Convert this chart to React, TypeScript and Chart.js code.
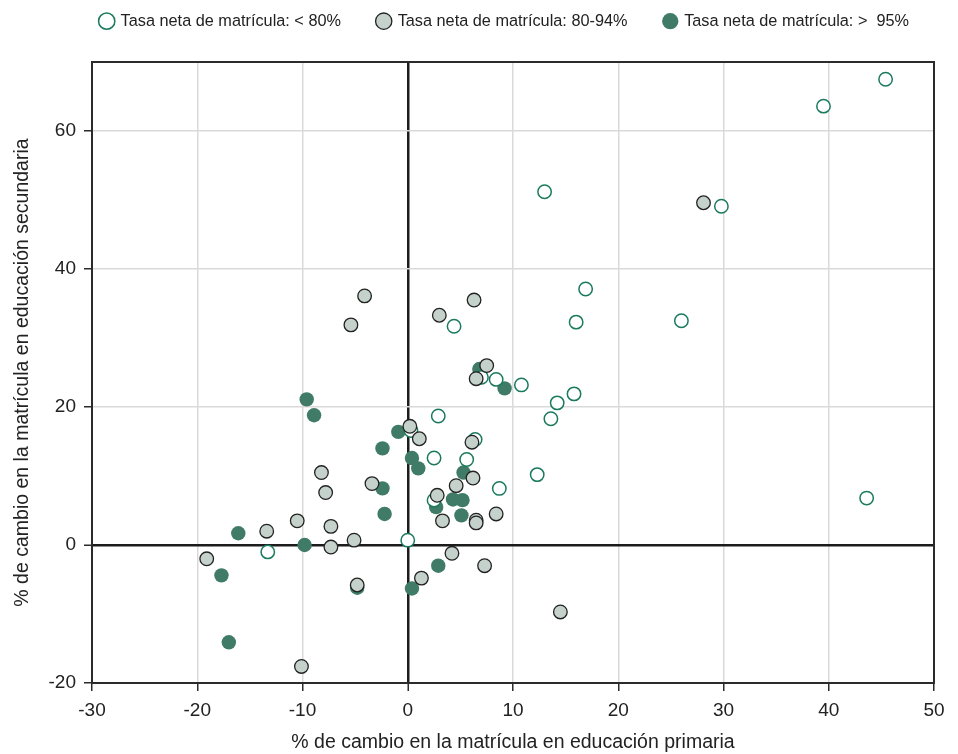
import React, { useEffect, useRef } from 'react';
import { Chart, registerables } from 'chart.js';

Chart.register(...registerables);

// ---- Data ----
const seriesLabels = [
  'Tasa neta de matrícula: < 80%',
  'Tasa neta de matrícula: 80-94%',
  'Tasa neta de matrícula: >  95%',
];

const xAxisTitle = '% de cambio en la matrícula en educación primaria';
const yAxisTitle = '% de cambio en la matrícula en educación secundaria';

const xTickValues = [-30, -20, -10, 0, 10, 20, 30, 40, 50];
const yTickValues = [-20, 0, 20, 40, 60];

// [primaria %, secundaria %]
const lowEnrollment: [number, number][] = [
  [45.4, 67.5], [39.5, 63.6], [13.0, 51.2], [29.8, 49.1], [16.9, 37.1],
  [26.0, 32.5], [16.0, 32.3], [4.4, 31.7], [7.0, 24.3], [8.4, 24.0],
  [10.8, 23.2], [15.8, 21.9], [14.2, 20.6], [13.6, 18.3], [2.9, 18.7],
  [0.3, 16.6], [6.4, 15.3], [2.5, 12.6], [5.6, 12.4], [12.3, 10.2],
  [8.7, 8.2], [2.5, 6.5], [0.0, 0.7], [-13.3, -1.0], [43.6, 6.8],
];

const midEnrollment: [number, number][] = [
  [-4.1, 36.1], [-5.4, 31.9], [0.2, 17.2], [1.1, 15.4], [6.3, 35.5],
  [3.0, 33.3], [7.5, 26.0], [6.5, 24.1], [6.1, 14.9], [4.6, 8.6],
  [6.2, 9.7], [2.8, 7.2], [3.3, 3.5], [6.5, 3.6], [6.5, 3.2],
  [8.4, 4.5], [4.2, -1.2], [7.3, -3.0], [1.3, -4.8], [-8.2, 10.5],
  [-7.8, 7.6], [-10.5, 3.5], [-13.4, 2.0], [-19.1, -2.0], [-7.3, 2.7],
  [-7.3, -0.3], [-5.1, 0.7], [-3.4, 8.9], [-4.8, -5.8], [-10.1, -17.6],
  [14.5, -9.7], [28.1, 49.6],
];

const highEnrollment: [number, number][] = [
  [-9.6, 21.1], [-8.9, 18.8], [-0.9, 16.4], [9.2, 22.7], [6.8, 25.5],
  [-2.4, 14.0], [0.4, 12.6], [1.0, 11.1], [5.3, 10.5], [-2.4, 8.2],
  [4.3, 6.6], [5.2, 6.5], [2.7, 5.5], [-2.2, 4.5], [5.1, 4.3],
  [2.9, -3.0], [0.4, -6.3], [-16.1, 1.7], [-9.8, 0.0], [-17.7, -4.4],
  [-17.0, -14.1], [-4.8, -6.2],
];

// ---- Styling constants ----
const FONT = '"Liberation Sans", Arial, Helvetica, sans-serif';
const TEXT = '#222222';
const LEGEND_HEIGHT = 62;
const LEGEND_PAD = 37;
const LEGEND_DX = 38;
const LEGEND_DY = -24;

const legendBox = {
  id: 'legendBox',
  beforeInit(chart: any) {
    const legend = chart.legend;
    if (!legend) return;
    const origFit = legend.fit;
    legend.fit = function () {
      origFit.call(this);
      this.height = LEGEND_HEIGHT;
    };
  },
  afterLayout(chart: any) {
    const l = chart.legend;
    if (!l) return;
    l.left += LEGEND_DX;
    l.right += LEGEND_DX;
    l.top += LEGEND_DY;
    l.bottom += LEGEND_DY;
  },
};

const frame = {
  id: 'frame',
  afterDatasetsDraw(chart: any) {
    const { ctx, chartArea } = chart;
    const { left, top, right, bottom } = chartArea;
    ctx.save();
    ctx.strokeStyle = '#2b2b2b';
    ctx.lineWidth = 2;
    ctx.strokeRect(left, top, right - left, bottom - top);
    ctx.restore();
  },
};

const toPoints = (arr: [number, number][]) => arr.map(([x, y]) => ({ x, y }));

export default function App() {
  const canvasRef = useRef<HTMLCanvasElement | null>(null);

  useEffect(() => {
    if (!canvasRef.current) return;
    const gridColor = (c: any) => (c.tick && c.tick.value === 0 ? '#1c1c1c' : '#d9d9d9');
    const gridWidth = (c: any) => (c.tick && c.tick.value === 0 ? 2.5 : 1.5);

    const chart = new Chart(canvasRef.current, {
      type: 'scatter',
      data: {
        datasets: [
          {
            label: seriesLabels[0],
            data: toPoints(lowEnrollment),
            backgroundColor: '#ffffff',
            borderColor: '#1b7a5e',
            borderWidth: 1.5,
            pointRadius: 6.7,
            pointHoverRadius: 6.7,
            order: 2,
          },
          {
            label: seriesLabels[1],
            data: toPoints(midEnrollment),
            backgroundColor: '#c5d2cc',
            borderColor: '#222222',
            borderWidth: 1.3,
            pointRadius: 6.8,
            pointHoverRadius: 6.8,
            order: 1,
          },
          {
            label: seriesLabels[2],
            data: toPoints(highEnrollment),
            backgroundColor: '#3f7b66',
            borderColor: '#3f7b66',
            borderWidth: 0,
            pointRadius: 7.2,
            pointHoverRadius: 7.2,
            order: 3,
          },
        ],
      },
      options: {
        responsive: false,
        animation: false,
        events: [],
        layout: { padding: { left: 0, right: 24, top: 0, bottom: 0 } },
        plugins: {
          tooltip: { enabled: false },
          legend: {
            display: true,
            position: 'top',
            align: 'center',
            labels: {
              usePointStyle: true,
              pointStyle: 'circle',
              boxWidth: 11.5,
              boxHeight: 11.5,
              padding: LEGEND_PAD,
              color: TEXT,
              font: { family: FONT, size: 16.3 },
              sort: (a: any, b: any) => a.datasetIndex - b.datasetIndex,
            },
          },
        },
        scales: {
          x: {
            type: 'linear',
            min: -30,
            max: 50,
            afterBuildTicks: (scale: any) => {
              scale.ticks = xTickValues.map((v) => ({ value: v }));
            },
            afterFit: (scale: any) => {
              scale.height = 71;
            },
            grid: {
              color: gridColor,
              lineWidth: gridWidth,
              drawTicks: true,
              tickLength: 8,
              tickColor: '#2b2b2b',
              tickWidth: 1.5,
            },
            border: { display: true, color: '#2b2b2b', width: 2 },
            ticks: {
              color: TEXT,
              font: { family: FONT, size: 19 },
              padding: 8,
              maxRotation: 0,
            },
            title: {
              display: true,
              text: xAxisTitle,
              color: TEXT,
              font: { family: FONT, size: 19.5 },
              padding: { top: 0, bottom: 0 },
            },
          },
          y: {
            type: 'linear',
            min: -20,
            max: 70,
            afterBuildTicks: (scale: any) => {
              scale.ticks = yTickValues.map((v) => ({ value: v }));
            },
            afterFit: (scale: any) => {
              scale.width = 92;
            },
            grid: {
              color: gridColor,
              lineWidth: gridWidth,
              drawTicks: true,
              tickLength: 8,
              tickColor: '#2b2b2b',
              tickWidth: 1.5,
            },
            border: { display: true, color: '#2b2b2b', width: 2 },
            ticks: {
              color: TEXT,
              font: { family: FONT, size: 19 },
              padding: 8,
            },
            title: {
              display: true,
              text: yAxisTitle,
              color: TEXT,
              font: { family: FONT, size: 19.5 },
              padding: { top: 11, bottom: 0 },
            },
          },
        },
      } as any,
      plugins: [legendBox, frame],
    });

    return () => {
      chart.destroy();
    };
  }, []);

  return (
    <div
      style={{
        position: 'fixed',
        left: 0,
        top: 0,
        width: 958,
        height: 754,
        background: '#ffffff',
      }}
    >
      <canvas ref={canvasRef} width={958} height={754} style={{ display: 'block' }} />
    </div>
  );
}
